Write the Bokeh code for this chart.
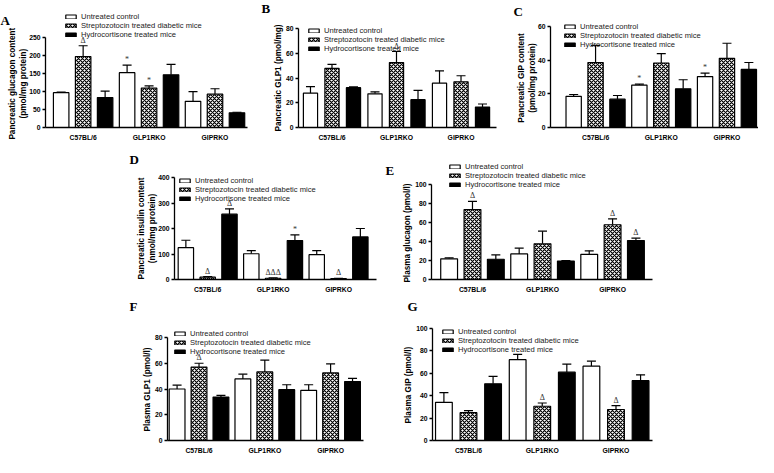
from bokeh.plotting import figure
from bokeh.models import Range1d, FixedTicker, ColumnDataSource, Whisker, TeeHead, Title, Spacer
from bokeh.transform import dodge
from bokeh.layouts import row, column
from bokeh.core.properties import value
from bokeh.embed import file_html
from bokeh.resources import INLINE

# ---------------- data ----------------
groups = ["C57BL/6", "GLP1RKO", "GIPRKO"]
series = ["Untreated control", "Streptozotocin treated diabetic mice", "Hydrocortisone treated mice"]

# A: pancreatic glucagon content (pmol/mg protein)
A_control = [97, 153, 73]
A_control_sem = [1.5, 21, 27]
A_stz = [198, 110, 93]
A_stz_sem = [30, 6, 15]
A_hc = [83.5, 147, 41]
A_hc_sem = [18, 29, 1.5]
A_marks = [["", "*", ""], ["Δ", "*", ""], ["", "", ""]]

# B: pancreatic GLP1 (pmol/mg)
B_control = [27.7, 27.2, 35.8]
B_control_sem = [5.3, 1.6, 10]
B_stz = [47.8, 52.5, 36.9]
B_stz_sem = [3.2, 8.9, 4.9]
B_hc = [32.2, 22.5, 16.5]
B_hc_sem = [0.6, 7.5, 2.5]
B_marks = [["", "", ""], ["", "Δ", ""], ["", "", ""]]

# C: pancreatic GIP content (pmol/mg protein)
C_control = [18.6, 25.3, 30.4]
C_control_sem = [1.1, 0.6, 2.1]
C_stz = [38.8, 38.5, 41.3]
C_stz_sem = [10.2, 5.6, 9.0]
C_hc = [16.9, 23.1, 34.7]
C_hc_sem = [2.2, 5.4, 4.1]
C_marks = [["", "*", "*"], ["", "", ""], ["", "", ""]]

# D: pancreatic insulin content (nmol/mg protein)
D_control = [125, 101, 97.5]
D_control_sem = [29, 12, 15.5]
D_stz = [9, 5, 4]
D_stz_sem = [2, 1, 0.5]
D_hc = [256, 153, 167]
D_hc_sem = [21, 22, 33]
D_marks = [["", "", ""], ["Δ", "ΔΔΔ", "Δ"], ["Δ", "*", ""]]

# E: plasma glucagon (pmol/l)
E_control = [21.9, 27, 26.6]
E_control_sem = [1.0, 6.1, 3.7]
E_stz = [74, 37.7, 57.9]
E_stz_sem = [8.7, 13.4, 6.2]
E_hc = [21.4, 19.5, 41.2]
E_hc_sem = [4.6, 0.6, 2.5]
E_marks = [["", "", ""], ["Δ", "", "Δ"], ["", "", "Δ"]]

# F: plasma GLP1 (pmol/l)
F_control = [40, 47.8, 39]
F_control_sem = [3, 3.7, 4.3]
F_stz = [57, 53.3, 52.5]
F_stz_sem = [3, 9.2, 7]
F_hc = [33.8, 39.5, 45.8]
F_hc_sem = [1.2, 3.8, 2.5]
F_marks = [["", "", ""], ["Δ", "", ""], ["", "", ""]]

# G: plasma GIP (pmol/l)
G_control = [34.1, 72.2, 66.4]
G_control_sem = [8.7, 4.7, 4.4]
G_stz = [24.8, 30.6, 27.7]
G_stz_sem = [1.8, 2.9, 3.5]
G_hc = [50.6, 61, 53.4]
G_hc_sem = [6.6, 7.2, 5.2]
G_marks = [["", "", ""], ["", "Δ", "Δ"], ["", "", ""]]

panel_data = {
    "A": (["Pancreatic glucagon content", "(pmol/mg protein)"], [0, 50, 100, 150, 200, 250],
          [A_control, A_stz, A_hc], [A_control_sem, A_stz_sem, A_hc_sem], A_marks),
    "B": (["Pancreatic GLP1 (pmol/mg)"], [0, 20, 40, 60, 80],
          [B_control, B_stz, B_hc], [B_control_sem, B_stz_sem, B_hc_sem], B_marks),
    "C": (["Pancreatic GIP content", "(pmol/mg protein)"], [0, 20, 40, 60],
          [C_control, C_stz, C_hc], [C_control_sem, C_stz_sem, C_hc_sem], C_marks),
    "D": (["Pancreatic insulin content", "(nmol/mg protein)"], [0, 100, 200, 300, 400],
          [D_control, D_stz, D_hc], [D_control_sem, D_stz_sem, D_hc_sem], D_marks),
    "E": (["Plasma glucagon (pmol/l)"], [0, 20, 40, 60, 80, 100],
          [E_control, E_stz, E_hc], [E_control_sem, E_stz_sem, E_hc_sem], E_marks),
    "F": (["Plasma GLP1 (pmol/l)"], [0, 20, 40, 60, 80],
          [F_control, F_stz, F_hc], [F_control_sem, F_stz_sem, F_hc_sem], F_marks),
    "G": (["Plasma GIP (pmol/l)"], [0, 20, 40, 60, 80, 100],
          [G_control, G_stz, G_hc], [G_control_sem, G_stz_sem, G_hc_sem], G_marks),
}

# ---------------- layout (reference pixel geometry) ----------------
SX = 758 / 769
SY = 457 / 472


def Xi(x):
    return int(round((x - 2) * SX))


def Yi(y):
    return int(round(y * SY))


ROWS = [(0, 152), (152, 306), (306, 472)]
geo = {
    "A": dict(box=(2, 255), row=0, axis_x=48, x_end=253, top=29, bottom=131, lo=-0.571, hi=2.493,
              bw=0.235, leg_x=67, leg_last=25.5, letter=(2, 12)),
    "B": dict(box=(255, 510), row=0, axis_x=304, x_end=505, top=29, bottom=131, lo=-0.519, hi=2.55,
              bw=0.22, leg_x=313, leg_last=41, letter=(267, 12)),
    "C": dict(box=(510, 771), row=0, axis_x=560, x_end=771, top=25, bottom=131.7, lo=-0.686, hi=2.48,
              bw=0.233, leg_x=573, leg_last=38.3, letter=(522, 12)),
    "D": dict(box=(130, 390), row=1, axis_x=179, x_end=383, top=182.7, bottom=288, lo=-0.507, hi=2.58,
              bw=0.235, leg_x=183, leg_last=195.7, letter=(133, 168)),
    "E": dict(box=(390, 668), row=1, axis_x=439, x_end=663, top=180.7, bottom=289, lo=-0.585, hi=2.57,
              bw=0.24, leg_x=457, leg_last=182.7, letter=(393, 167.5)),
    "F": dict(box=(130, 390), row=2, axis_x=171, x_end=370, top=347.7, bottom=454, lo=-0.479, hi=2.5,
              bw=0.24, leg_x=178, leg_last=354, letter=(133, 320)),
    "G": dict(box=(390, 668), row=2, axis_x=440, x_end=663, top=339, bottom=454.3, lo=-0.488, hi=2.495,
              bw=0.227, leg_x=449, leg_last=351.7, letter=(415, 320)),
}

styles = [
    dict(fill_color="white"),
    dict(fill_color="white", hatch_pattern="diagonal_cross", hatch_color="black",
         hatch_scale=4, hatch_weight=1.2),
    dict(fill_color="black"),
]

SANS = "Liberation Sans"
SERIF = "Liberation Serif"
ROW_H = 9            # legend row height (px)
LEG_SHIFT = 9        # measured extra lift of a legend placed by a location tuple
LEG_CLEAR = 5        # room kept between the legend and the (stretched) frame top
LETTER_H = 14.4      # text-box height of the 13px panel letter
LETTER_DESC = 2.8    # its descent
YLAB_PX = 8.2        # y-axis label font size
NBSP_EM = 0.278      # width of a (no-break) space in Liberation Sans Bold


def make_panel(key):
    ylabel_lines, ticks, means, sems, marks = panel_data[key]
    g = geo[key]
    x0, x1 = g["box"]
    y0, y1 = ROWS[g["row"]]
    W = Xi(x1) - Xi(x0)
    H = Yi(y1) - Yi(y0)
    fb = Yi(g["bottom"]) - Yi(y0)              # frame bottom (figure px)
    tt = Yi(g["top"]) - Yi(y0)                 # top tick (figure px)
    lb = Yi(g["leg_last"]) - Yi(y0) + ROW_H / 2  # legend bottom (figure px)
    leg_top = lb - 3 * ROW_H - LEG_CLEAR
    tb = Yi(g["letter"][1]) - Yi(y0) + LETTER_DESC
    # the frame is stretched up so that the legend is inside it
    ft = int(max(0, min(tt, leg_top, 2 * tb - 2 - LETTER_H)))
    y_end = ticks[-1] * (fb - ft) / (fb - tt)

    p = figure(width=W, height=H, title=None,
               x_range=Range1d(g["lo"], g["hi"]), y_range=Range1d(ticks[0], y_end),
               output_backend="svg", toolbar_location=None,
               min_border_left=Xi(g["axis_x"]) - Xi(x0),
               min_border_right=Xi(x1) - Xi(g["x_end"]),
               min_border_top=ft,
               min_border_bottom=H - fb)
    p.outline_line_color = None
    p.xgrid.visible = False
    p.ygrid.visible = False

    idx = list(range(len(groups)))
    for i in range(3):
        off = (i - 1) / 3
        src = ColumnDataSource(dict(
            g=idx, top=means[i],
            upper=[m + s for m, s in zip(means[i], sems[i])],
            mark=marks[i]))
        p.vbar(x=dodge("g", off), top="top", bottom=0, width=g["bw"], source=src,
               line_color="black", line_width=1.2, legend_label=series[i], **styles[i])
        p.add_layout(Whisker(source=src, base=dodge("g", off), lower="top", upper="upper",
                             dimension="height", line_color="black", line_width=1.2,
                             upper_head=TeeHead(size=9, line_color="black", line_width=1.2),
                             lower_head=None))
        p.text(x=dodge("g", off), y="upper", text="mark", source=src,
               text_align="center", text_baseline="bottom", y_offset=-1,
               text_font=value(SERIF), text_font_size="8px", text_color="#333333")

    # axes
    for ax in (p.xaxis[0], p.yaxis[0]):
        ax.axis_line_color = "black"
        ax.axis_line_width = 1.3
        ax.minor_tick_line_color = None
        ax.major_label_text_font = SANS
        ax.major_label_text_font_style = "bold"
        ax.major_label_text_font_size = "6.8px"
        ax.major_label_text_color = "black"
    xa = p.xaxis[0]
    xa.ticker = FixedTicker(ticks=idx)
    xa.major_label_overrides = {i: name for i, name in enumerate(groups)}
    xa.major_tick_out = 0
    xa.major_tick_in = 0
    xa.major_tick_line_color = None
    xa.major_label_standoff = 6
    ya = p.yaxis[0]
    ya.ticker = FixedTicker(ticks=ticks)
    ya.bounds = (ticks[0], ticks[-1])
    ya.major_tick_out = 3
    ya.major_tick_in = 0
    ya.major_tick_line_width = 1.3
    ya.major_label_standoff = 2
    # the axis label is centred on the (stretched) frame: pad its upper end with
    # no-break spaces so that the visible words stay centred on the tick span
    pad = "\u00a0" * int(round((tt - ft) / (NBSP_EM * YLAB_PX)))
    ya.axis_label = "\n".join(line + pad for line in ylabel_lines)
    ya.axis_label_standoff = -2 if len(ylabel_lines) > 1 else 0
    ya.axis_label_text_font = SANS
    ya.axis_label_text_font_style = "bold"
    ya.axis_label_text_font_size = f"{YLAB_PX}px"
    ya.axis_label_text_color = "black"

    # legend (inside the stretched frame)
    leg = p.legend[0]
    leg.location = (Xi(g["leg_x"]) - Xi(g["axis_x"]), int(round(fb - lb - LEG_SHIFT)))
    leg.padding = 0
    leg.spacing = 0
    leg.margin = 0
    leg.glyph_width = 13
    leg.glyph_height = 5
    leg.label_height = ROW_H
    leg.label_standoff = 4
    leg.label_text_font = SANS
    leg.label_text_font_size = "7.6px"
    leg.label_text_color = "#222222"
    leg.border_line_color = None
    leg.background_fill_alpha = 0

    # panel letter as the plot title, pulled left of the frame
    standoff = int(round(2 * (ft - tb)))
    p.title = Title(text=key, align="left", vertical_align="bottom",
                    offset=Xi(g["letter"][0]) - Xi(g["axis_x"]), standoff=standoff,
                    text_font=SERIF, text_font_style="bold", text_font_size="13px",
                    text_color="black")
    return p


figs = {k: make_panel(k) for k in panel_data}
pad_w = Xi(130) - Xi(2)
layout = column(
    row(figs["A"], figs["B"], figs["C"]),
    row(Spacer(width=pad_w, height=Yi(306) - Yi(152)), figs["D"], figs["E"]),
    row(Spacer(width=pad_w, height=Yi(472) - Yi(306)), figs["F"], figs["G"]),
)

open("out.html", "w").write(file_html(layout, INLINE))
